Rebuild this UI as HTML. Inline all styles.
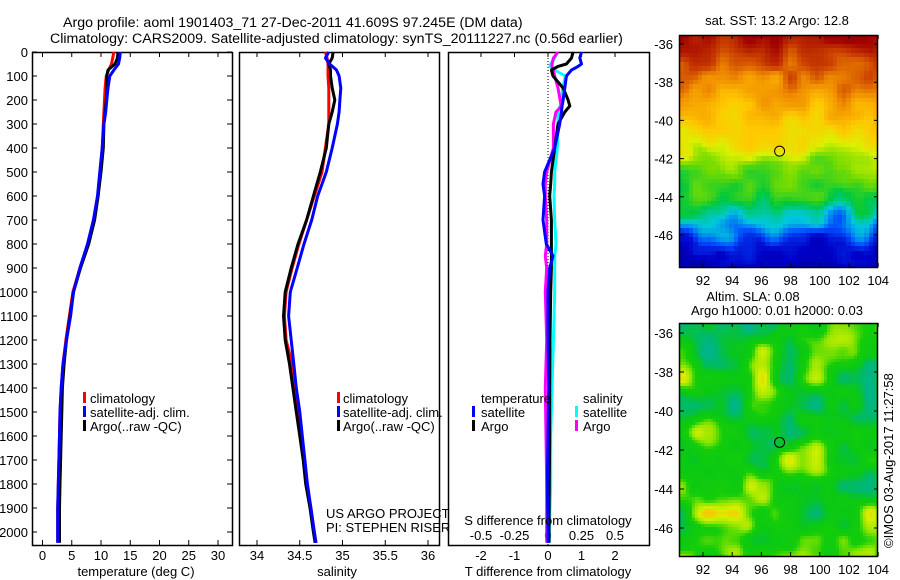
<!DOCTYPE html>
<html><head><meta charset="utf-8"><style>
body{margin:0;background:#fff;width:900px;height:580px;overflow:hidden;position:relative;font-family:"Liberation Sans",sans-serif}
svg{position:absolute;left:0;top:0}
canvas{position:absolute;image-rendering:pixelated}
text{font-family:"Liberation Sans",sans-serif;font-size:13px;fill:#000}
</style></head><body>
<canvas id="sst" width="197" height="232" style="left:680px;top:35px"></canvas>
<canvas id="sla" width="198" height="233" style="left:680px;top:323px"></canvas>
<svg id="chart" width="900" height="580">
<g>
<text x="63" y="27" style="font-size:14.2px">Argo profile: aoml 1901403_71 27-Dec-2011 41.609S 97.245E (DM data)</text>
<text x="50" y="43" style="font-size:14.2px">Climatology: CARS2009. Satellite-adjusted climatology: synTS_20111227.nc (0.56d earlier)</text>
</g>
<g id="axes"></g>
<g id="lines"></g>
<g id="legends">
<rect x="83" y="392" width="3" height="11" fill="#f00"/>
<text x="90" y="403">climatology</text>
<rect x="83" y="406" width="3" height="11" fill="#00f"/>
<text x="90" y="417">satellite-adj. clim.</text>
<rect x="83" y="420" width="3" height="11" fill="#000"/>
<text x="90" y="431">Argo(..raw -QC)</text>
<rect x="337" y="392" width="3" height="11" fill="#f00"/>
<text x="343" y="403">climatology</text>
<rect x="337" y="406" width="3" height="11" fill="#00f"/>
<text x="343" y="417">satellite-adj. clim.</text>
<rect x="337" y="420" width="3" height="11" fill="#000"/>
<text x="343" y="431">Argo(..raw -QC)</text>
<text x="326" y="518">US ARGO PROJECT</text>
<text x="326" y="532">PI: STEPHEN RISER</text>
<text x="481" y="403">temperature</text>
<text x="583" y="403">salinity</text>
<rect x="472" y="406" width="3" height="11" fill="#00f"/>
<text x="481" y="417">satellite</text>
<rect x="472" y="420" width="3" height="11" fill="#000"/>
<text x="481" y="431">Argo</text>
<rect x="575" y="406" width="3" height="11" fill="#0ff"/>
<text x="583" y="417">satellite</text>
<rect x="575" y="420" width="3" height="11" fill="#f0f"/>
<text x="583" y="431">Argo</text>
</g>
<text x="548" y="525" text-anchor="middle">S difference from climatology</text>
<text x="136" y="576" text-anchor="middle">temperature (deg C)</text>
<text x="337" y="576" text-anchor="middle">salinity</text>
<text x="548" y="576" text-anchor="middle">T difference from climatology</text>
<text x="777" y="25" text-anchor="middle">sat. SST: 13.2 Argo: 12.8</text>
<text x="753" y="301" text-anchor="middle">Altim. SLA: 0.08</text>
<text x="777" y="315" text-anchor="middle">Argo h1000: 0.01 h2000: 0.03</text>
<text transform="translate(893,548) rotate(-90)">©IMOS 03-Aug-2017 11:27:58</text>
</svg>
<script>
// ---- data ----
var depths = [0,25,50,75,100,150,200,250,300,400,500,600,700,800,900,1000,1100,1200,1300,1400,1500,1600,1700,1800,1900,2000,2045];
var tempClim = [12.2,12.0,11.8,11.3,10.9,10.7,10.6,10.5,10.4,10.2,9.9,9.5,8.8,7.8,6.4,5.2,4.6,4.0,3.5,3.2,3.0,2.9,2.8,2.7,2.6,2.6,2.6];
var tempArgo = [12.9,12.8,12.4,11.2,11.0,11.0,10.9,10.7,10.5,10.4,10.0,9.5,8.9,7.9,6.5,5.3,4.7,4.1,3.7,3.4,3.3,3.2,3.1,3.0,2.9,2.9,2.9];
var tempSat = [13.3,13.2,13.0,12.2,11.5,11.2,11.0,10.8,10.5,10.2,9.8,9.4,8.7,7.7,6.4,5.3,4.8,4.1,3.5,3.2,3.0,2.9,2.8,2.7,2.6,2.6,2.6];
var salClim = [34.80,34.82,34.83,34.83,34.83,34.84,34.84,34.84,34.84,34.80,34.76,34.67,34.58,34.49,34.41,34.34,34.32,34.34,34.41,34.44,34.48,34.51,34.55,34.58,34.63,34.67,34.69];
var salArgo = [34.89,34.88,34.84,34.86,34.86,34.88,34.91,34.88,34.84,34.81,34.74,34.66,34.58,34.48,34.40,34.33,34.31,34.33,34.38,34.42,34.46,34.50,34.54,34.57,34.62,34.66,34.68];
var salSat = [34.84,34.80,34.85,34.93,34.96,34.98,34.97,34.96,34.94,34.88,34.81,34.71,34.64,34.55,34.47,34.39,34.37,34.40,34.43,34.46,34.50,34.53,34.56,34.59,34.63,34.67,34.69];
var diffDepths = [0,25,50,60,75,100,150,200,225,250,300,400,500,550,600,700,800,850,900,1000,1200,1400,1600,1800,2000,2045];
var tDiffSat = [1.0,0.95,1.0,0.9,0.7,0.55,0.5,0.45,0.42,0.4,0.35,0.2,-0.1,-0.15,-0.1,-0.15,-0.05,0.15,0.05,0.0,0.0,0.02,0.0,-0.02,0.0,0.0];
var tDiffArgo = [0.75,0.7,0.55,0.3,0.1,0.15,0.45,0.6,0.65,0.5,0.3,0.2,0.1,0.08,0.05,0.1,0.1,0.1,0.1,0.08,0.06,0.05,0.05,0.04,0.03,0.03];
var sDiffSat = [0.07,0.05,0.02,0.015,0.05,0.13,0.11,0.1,0.09,0.075,0.075,0.07,0.05,0.05,0.045,0.05,0.06,0.05,0.05,0.05,0.04,0.03,0.02,0.02,0.01,0.01];
var sDiffArgo = [0.075,0.04,0.03,0.03,0.04,0.05,0.075,0.09,0.1,0.06,0.04,0.04,-0.01,-0.02,-0.02,-0.01,-0.01,-0.02,-0.01,-0.02,-0.01,-0.02,-0.015,-0.01,-0.01,-0.01];
var depthTicks = [0,100,200,300,400,500,600,700,800,900,1000,1100,1200,1300,1400,1500,1600,1700,1800,1900,2000];
var tempTicks = [0,5,10,15,20,25,30];
var salTicks = [34,34.5,35,35.5,36];
var tDiffTicks = [-2,-1,0,1,2];
var sDiffTicks = [-0.5,-0.25,0,0.25,0.5];
var lonTicks = [92,94,96,98,100,102,104];
var latTicks = [-36,-38,-40,-42,-44,-46];
var argoLon = 97.245, argoLat = -41.609;

// ---- axis functions ----
function yD(d){return 52+0.24*d;}
function xT(t){return 42.5+5.85*t;}
function xS(s){return 257+85.5*(s-34);}
function xdT(v){return 548+33.5*v;}
function xdS(v){return 548+134*v;}
function mapX(lon){return 703+(lon-92)*14.6;}
function sstY(lat){return 44+(-36-lat)*19.1;}
function slaY(lat){return 333+(-36-lat)*19.5;}

var NS='http://www.w3.org/2000/svg';
var axes=document.getElementById('axes'), lines=document.getElementById('lines');
function el(tag,attrs,parent){var e=document.createElementNS(NS,tag);for(var k in attrs)e.setAttribute(k,attrs[k]);parent.appendChild(e);return e;}
function txt(x,y,s,anchor,parent){var t=el('text',{x:x,y:y,'text-anchor':anchor},parent);t.textContent=s;return t;}

var panels=[[32,232],[239,439],[448,649]];
var B=545;
panels.forEach(function(p,i){
  var r=el('rect',{x:p[0]+0.5,y:52.5,width:p[1]-p[0],height:B-52,fill:'none',stroke:'#000','stroke-width':1.5},axes);
  
  
});
depthTicks.forEach(function(d){
  var y=yD(d);
  var t=txt(28,y+5,String(d),'end',axes);
  
  
  var l=el('path',{d:'M32,'+y+'h5M232,'+y+'h-5',stroke:'#000','stroke-width':1},axes);
  
  
});
tempTicks.forEach(function(v){
  var x=xT(v);
  var t=txt(x,560,String(v),'middle',axes);
  
  
  var l=el('path',{d:'M'+x+',52v5M'+x+','+B+'v-5',stroke:'#000'},axes);
  
  
});
salTicks.forEach(function(v){
  var x=xS(v);
  var t=txt(x,560,String(v),'middle',axes);
  
  
  var l=el('path',{d:'M'+x+',52v5M'+x+','+B+'v-5',stroke:'#000'},axes);
  
  
});
tDiffTicks.forEach(function(v){
  var x=xdT(v);
  var t=txt(x,560,String(v),'middle',axes);
  
  
  var l=el('path',{d:'M'+x+',52v5',stroke:'#000'},axes);
  
  
});
sDiffTicks.forEach(function(v){
  var x=xdS(v);
  var t=txt(x,540,String(v),'middle',axes);
  
  
});
var zl=el('line',{x1:548,y1:52,x2:548,y2:B,stroke:'#000','stroke-dasharray':'1,2'},axes);



function series(vals,dep,fx,color,name){
  var d='';
  for(var i=0;i<vals.length;i++){d+=(i?'L':'M')+fx(vals[i]).toFixed(1)+','+yD(dep[i]).toFixed(1);}
  var p=el('path',{d:d,fill:'none',stroke:color,'stroke-width':3,'stroke-linejoin':'round'},lines);
  
  
}
series(tempClim,depths,xT,'#f00','temperature-climatology-line');
series(tempArgo,depths,xT,'#000','temperature-argo-line');
series(tempSat,depths,xT,'#00f','temperature-satellite-line');
series(salClim,depths,xS,'#f00','salinity-climatology-line');
series(salArgo,depths,xS,'#000','salinity-argo-line');
series(salSat,depths,xS,'#00f','salinity-satellite-line');
series(sDiffSat,diffDepths,xdS,'#0ff','s-diff-satellite-line');
series(sDiffArgo,diffDepths,xdS,'#f0f','s-diff-argo-line');
series(tDiffArgo,diffDepths,xdT,'#000','t-diff-argo-line');
series(tDiffSat,diffDepths,xdT,'#00f','t-diff-satellite-line');

// map frames, ticks, markers
function mapAxes(top,h,fy,name,labY){
  var f=el('rect',{x:679.5,y:top+0.5,width:198,height:h,fill:'none',stroke:'#000','stroke-width':1.5},axes);
  
  
  latTicks.forEach(function(v){
    var y=fy(v);
    var t=txt(673,y+5,String(v),'end',axes);
    
    
    var l=el('path',{d:'M680,'+y+'h4M878,'+y+'h-4',stroke:'#000'},axes);
    
    
  });
  lonTicks.forEach(function(v){
    var x=mapX(v);
    var t=txt(x,labY,String(v),'middle',axes);
    
    
    var l=el('path',{d:'M'+x+','+top+'v4M'+x+','+(top+h)+'v-4',stroke:'#000'},axes);
    
    
  });
  var c=el('circle',{cx:mapX(argoLon),cy:fy(argoLat),r:5,fill:'none',stroke:'#000','stroke-width':1},axes);
  
  
}
mapAxes(35,232,sstY,'sst-map',285);
mapAxes(323,233,slaY,'sla-map',574);

// ---- map imagery (background texture) ----
function hash(i,j,s){var h=Math.sin(i*127.1+j*311.7+s*74.7)*43758.5453;return h-Math.floor(h);}
function vnoise(x,y,s){var i=Math.floor(x),j=Math.floor(y),fx=x-i,fy=y-j;fx=fx*fx*(3-2*fx);fy=fy*fy*(3-2*fy);
  var a=hash(i,j,s),b=hash(i+1,j,s),c=hash(i,j+1,s),d=hash(i+1,j+1,s);
  return a+(b-a)*fx+(c-a)*fy+(a-b-c+d)*fx*fy;}
function ramp(stops,v){v=Math.max(0,Math.min(1,v));for(var i=1;i<stops.length;i++){if(v<=stops[i][0]){var a=stops[i-1],b=stops[i],t=(v-a[0])/(b[0]-a[0]);return [a[1]+(b[1]-a[1])*t,a[2]+(b[2]-a[2])*t,a[3]+(b[3]-a[3])*t];}}var l=stops[stops.length-1];return [l[1],l[2],l[3]];}
var sstStops=[[0,0,0,120],[0.15,0,0,200],[0.25,0,80,255],[0.35,0,200,220],[0.45,0,200,60],[0.55,120,220,0],[0.63,220,240,0],[0.72,255,200,0],[0.82,240,140,0],[0.9,200,60,0],[1,160,0,0]];
var latK=[-35.8,-37,-38.5,-40,-41.5,-42.3,-43.5,-44.5,-45.5,-46.5,-48];
var latV=[0.97,0.9,0.8,0.72,0.64,0.55,0.5,0.42,0.32,0.18,0.12];
function baseSST(lat){for(var i=1;i<latK.length;i++){if(lat>=latK[i]){var t=(lat-latK[i-1])/(latK[i]-latK[i-1]);return latV[i-1]+(latV[i]-latV[i-1])*t;}}return latV[latV.length-1];}
(function(){
  var c=document.getElementById('sst').getContext('2d');var cs=4.5;
  for(var gy=0;gy<52;gy++)for(var gx=0;gx<44;gx++){
    var py=35+gy*cs+cs/2, lat=-36-(py-44)/19.1 + (vnoise(gx/5,gy/5,1)-0.5)*1.6;
    var v=baseSST(lat)+(vnoise(gx/3,gy/3,2)-0.5)*0.08;
    var col=ramp(sstStops,v);c.fillStyle='rgb('+col.map(Math.round).join(',')+')';
    c.fillRect(Math.floor(gx*cs),Math.floor(gy*cs),Math.ceil(cs)+1,Math.ceil(cs)+1);
  }
  var s=document.getElementById('sla').getContext('2d');
  var slaStops=[[0,0,175,175],[0.22,0,185,110],[0.4,10,200,20],[0.6,20,205,10],[0.75,150,230,0],[0.9,215,240,0],[1,240,205,0]];
  for(var y=0;y<78;y++)for(var x=0;x<66;x++){
    var v=0.55+(vnoise(x/9,y/9,5)-0.5)*0.75+(vnoise(x/4.5,y/4.5,6)-0.5)*0.3;
    var col=ramp(slaStops,v);s.fillStyle='rgb('+col.map(Math.round).join(',')+')';
    s.fillRect(x*3,y*3,3,3);
  }
})();
</script>
</body></html>
